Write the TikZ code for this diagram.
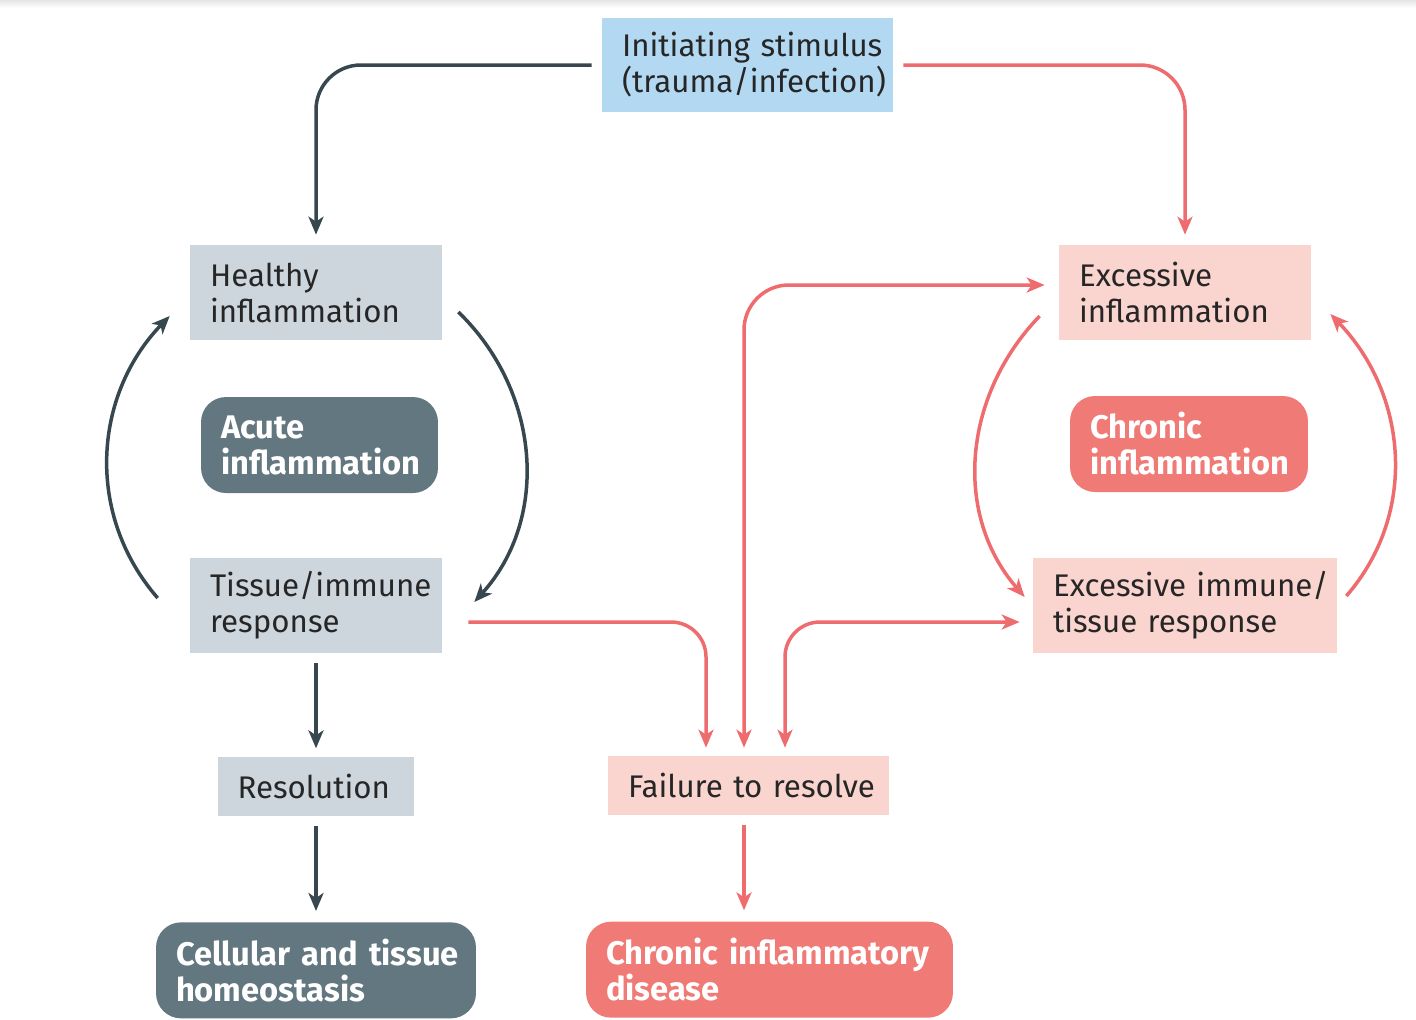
\documentclass[tikz,border=0pt]{standalone}
\usepackage{fontspec}
\setmainfont{Fira Sans}
\usetikzlibrary{positioning,arrows.meta,calc}

\definecolor{slateline}{HTML}{37474F}
\definecolor{slatefill}{HTML}{637780}
\definecolor{calmfill}{HTML}{CDD6DD}
\definecolor{stimfill}{HTML}{B3D9F2}
\definecolor{hotline}{HTML}{EE6B6E}
\definecolor{hotfill}{HTML}{F07A76}
\definecolor{warmfill}{HTML}{FAD4CE}

% one unbreakable line of box text
\newcommand{\boxline}[1]{\mbox{#1}}

\begin{document}
\begin{tikzpicture}[x=0.02cm, y=-0.02cm, > = {Stealth[length=0.36cm, width=0.3cm, inset=0.1cm]}]
    \tikzset{
      box/.style={inner xsep=0.4cm, inner ysep=0pt, align=left, text=black!85,
                  font=\fontsize{17.8}{20.5}\selectfont},
      stimbox/.style={box, fill=stimfill},
      calmbox/.style={box, fill=calmfill},
      warmbox/.style={box, fill=warmfill},
      calmpill/.style={box, fill=slatefill, rounded corners=0.5cm, text=white,
                       font=\fontsize{18.6}{20.5}\selectfont\bfseries},
      hotpill/.style={calmpill, fill=hotfill},
      calmflow/.style={draw=slateline, line width=0.07cm, ->},
      hotflow/.style={draw=hotline, line width=0.07cm, ->},
    }
    \useasboundingbox (0,0) rectangle (1416,1019);
    \shade[top color=black!10, bottom color=white] (0,0) rectangle (1416,8);

    % stimulus and the two branches
    \node [stimbox, text width=5.02cm, minimum height=1.88cm] (stim) at (747.5,65) {\boxline{Initiating stimulus}\\\boxline{(trauma/infection)}};
    \node [calmbox, text width=4.24cm, minimum height=1.9cm] (healthy) at (316,292.5) {\boxline{Healthy}\\\boxline{inflammation}};
    \node [calmpill, text width=3.94cm, minimum height=1.92cm] (acute) at (319.5,445) {\boxline{Acute}\\\boxline{inflammation}};
    \node [calmbox, text width=4.24cm, minimum height=1.9cm] (tissue) at (316,605.5) {\boxline{Tissue/immune}\\\boxline{response}};
    \node [calmbox, text width=3.14cm, minimum height=1.18cm, below=2.06cm of tissue] (res) {\boxline{Resolution}};
    \node [calmpill, text width=5.6cm, minimum height=1.92cm, below=2.12cm of res] (homeo) {\boxline{Cellular and tissue}\\\boxline{homeostasis}};

    \node [warmbox, text width=4.24cm, minimum height=1.9cm] (excess) at (1185,292.5) {\boxline{Excessive}\\\boxline{inflammation}};
    \node [hotpill, text width=3.96cm, minimum height=1.92cm] (chronic) at (1189,444) {\boxline{Chronic}\\\boxline{inflammation}};
    \node [warmbox, text width=5.28cm, minimum height=1.9cm] (ximmune) at (1185,605.5) {\boxline{Excessive immune/}\\\boxline{tissue response}};
    \node [warmbox, text width=4.82cm, minimum height=1.18cm] (failure) at (748.5,785.5) {\boxline{Failure to resolve}};
    \node [hotpill, text width=6.54cm, minimum height=1.92cm, below=2.12cm of failure, xshift=0.42cm] (disease) {\boxline{Chronic inflammatory}\\\boxline{disease}};

    % healthy loop
    \draw[calmflow, rounded corners=0.9cm] ([xshift=-0.2cm]stim.west) -| ([yshift=0.2cm]healthy.north);
    \draw[calmflow] ($(healthy.east)+(16,19.5)$) to[out=-44, in=48] ($(tissue.east)+(32,-3.5)$);
    \draw[calmflow] ($(tissue.west)+(-32,-7.5)$) to[out=131, in=-134] ($(healthy.west)+(-20,23.5)$);
    \draw[calmflow] ([yshift=-0.2cm]tissue.south) -- ([yshift=0.16cm]res.north);
    \draw[calmflow] ([yshift=-0.2cm]res.south) -- ([yshift=0.22cm]homeo.north);

    % excessive loop
    \draw[hotflow, rounded corners=0.9cm] ([xshift=0.2cm]stim.east) -| ([yshift=0.2cm]excess.north);
    \draw[hotflow] ($(excess.west)+(-19,23.5)$) to[out=-134, in=131] ($(ximmune.west)+(-8,-8.5)$);
    \draw[hotflow] ($(ximmune.east)+(9,-9.5)$) to[out=49, in=-46] ($(excess.east)+(19,21.5)$);

    % into failure to resolve
    \draw[hotflow, rounded corners=0.7cm] ([xshift=0.52cm, yshift=-0.33cm]tissue.east) -| ([xshift=-0.85cm, yshift=0.16cm]failure.north);
    \draw[hotflow, <->, rounded corners=0.9cm] ([xshift=-0.09cm, yshift=0.16cm]failure.north) |- ([xshift=-0.28cm, yshift=0.15cm]excess.west);
    \draw[hotflow, <->, rounded corners=0.7cm] ([xshift=-0.26cm, yshift=-0.33cm]ximmune.west) -| ([xshift=0.73cm, yshift=0.16cm]failure.north);
    \coordinate (fs) at ([xshift=-0.09cm, yshift=-0.2cm]failure.south);
    \coordinate (dtop) at ([yshift=0.22cm]disease.north);
    \draw[hotflow] (fs) -- (fs |- dtop);

  \end{tikzpicture}
\end{document}
